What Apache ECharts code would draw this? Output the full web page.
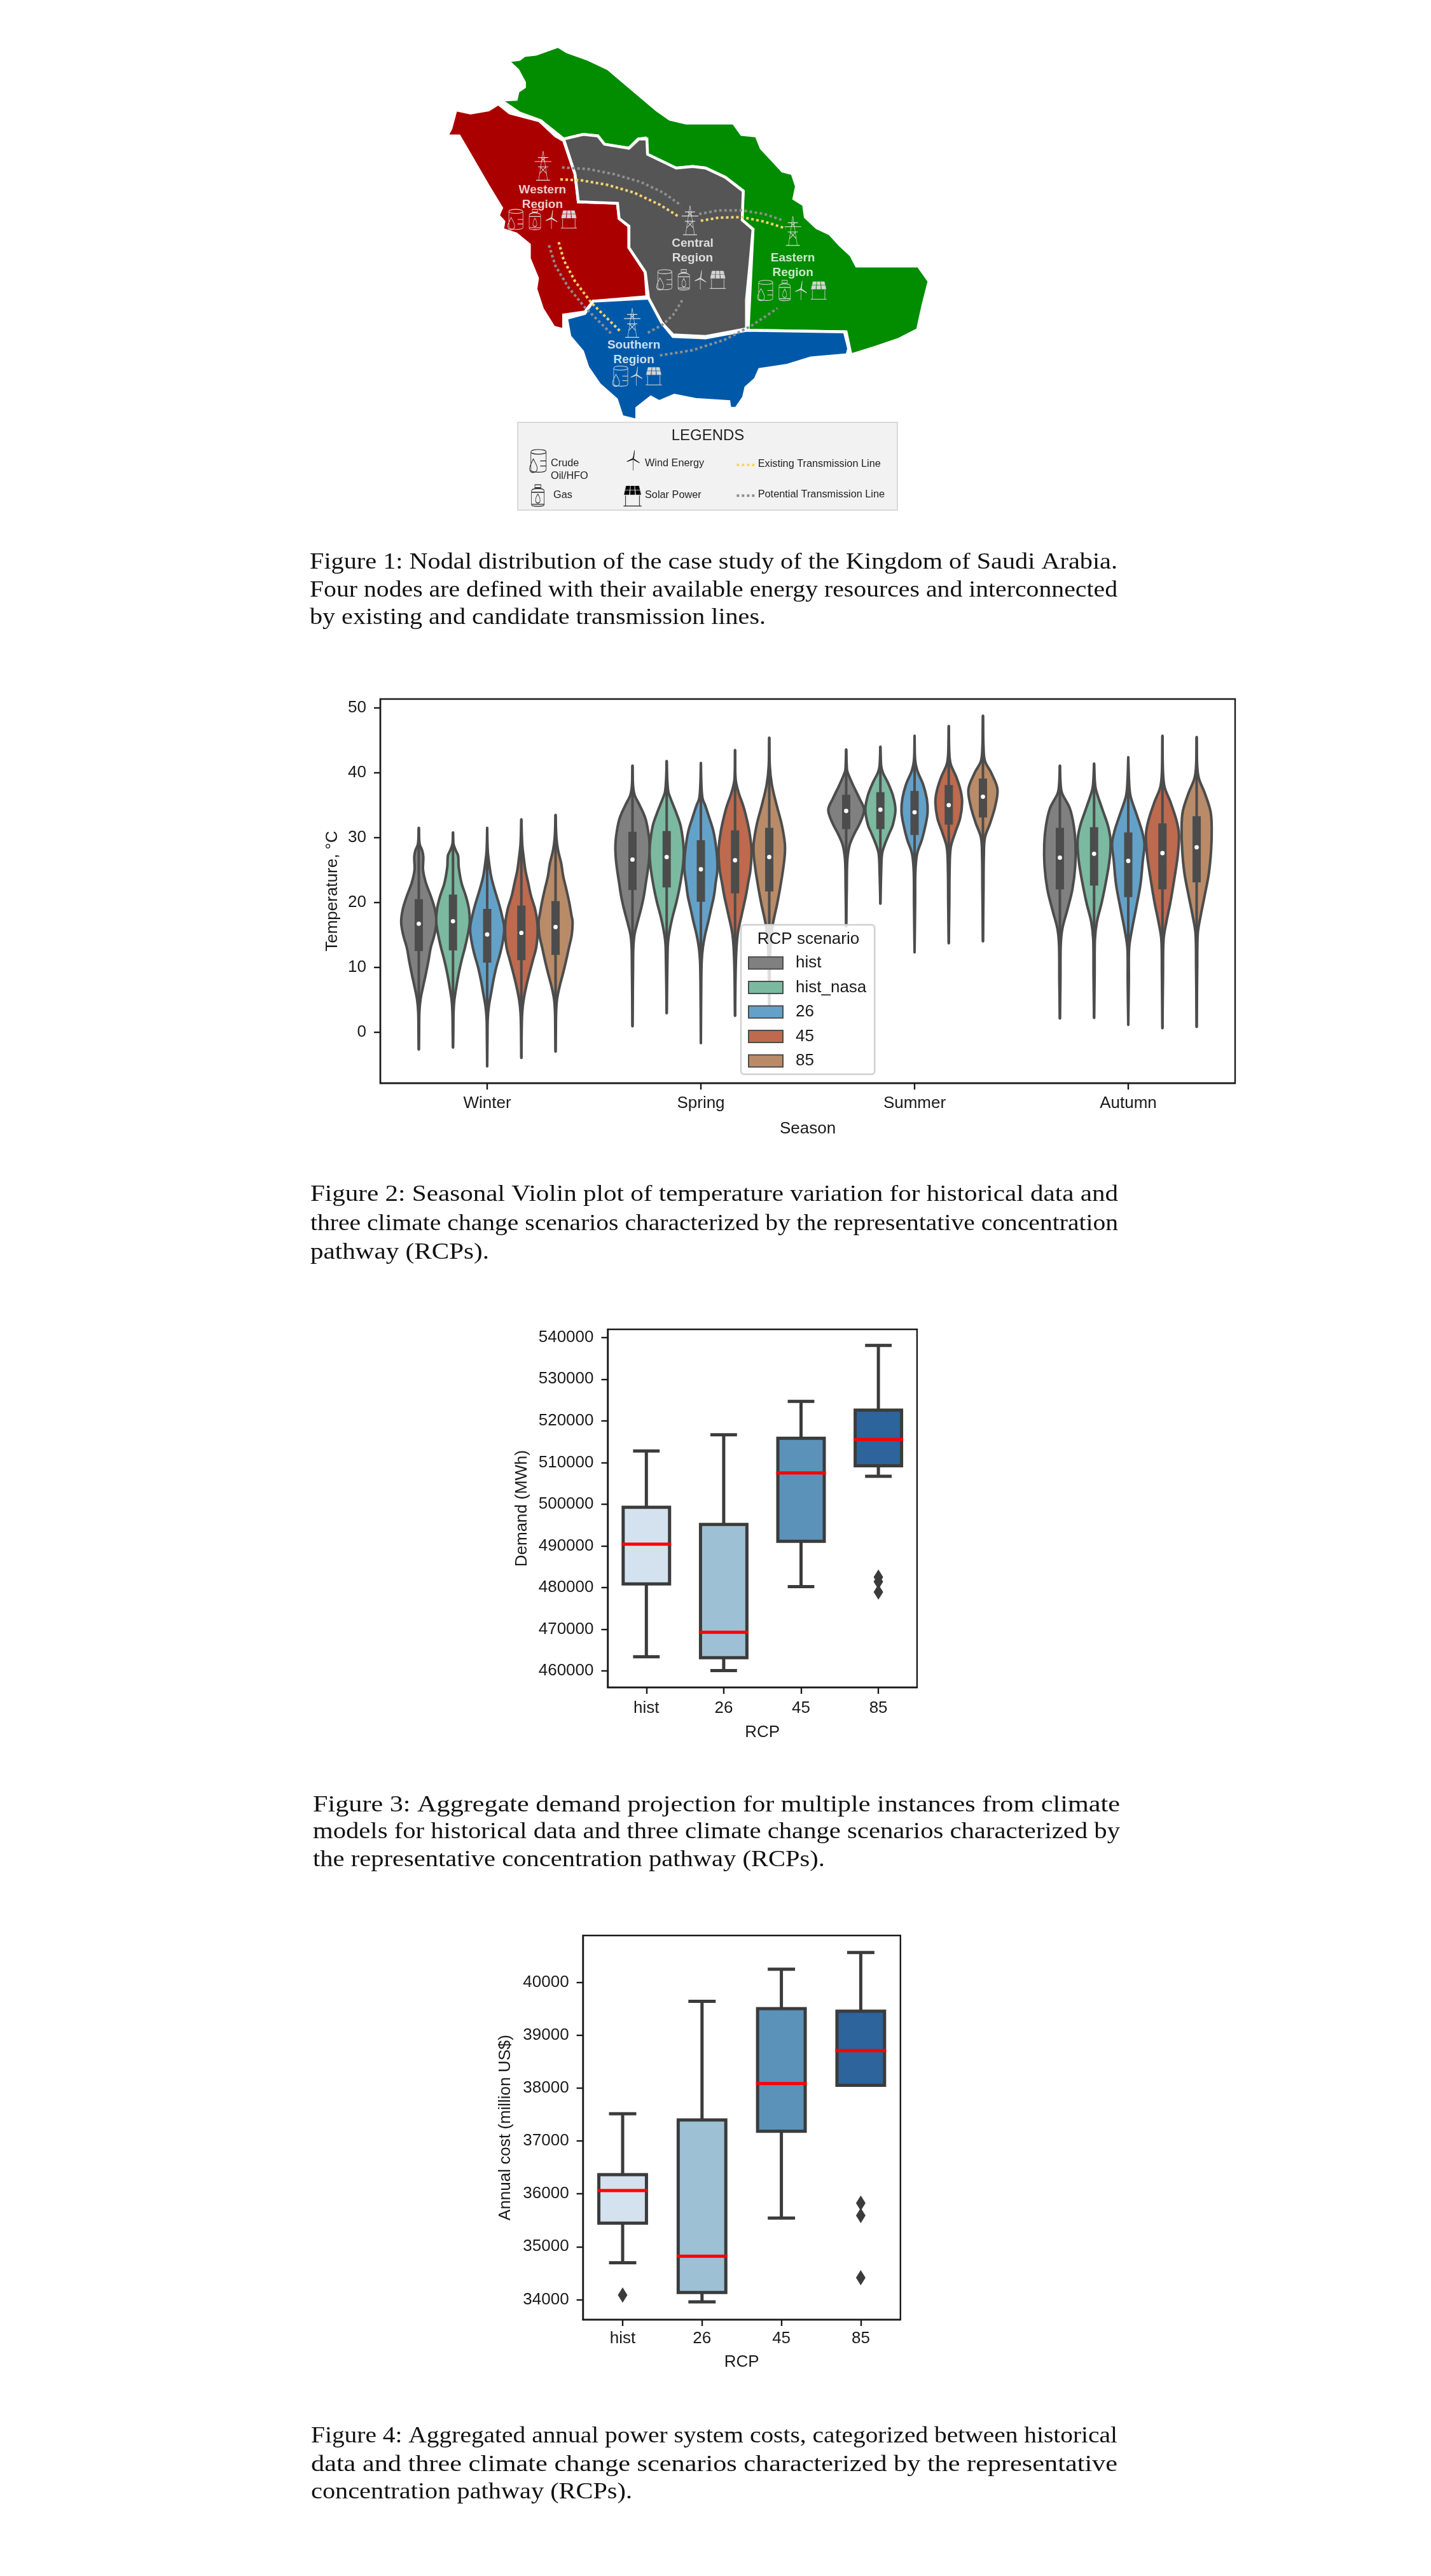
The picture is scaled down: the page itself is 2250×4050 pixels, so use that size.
<!DOCTYPE html>
<html><head><meta charset="utf-8">
<style>html,body{margin:0;padding:0;background:#fff}#c{width:2250px;height:4050px}</style>
<script src="https://cdn.jsdelivr.net/npm/echarts@6/dist/echarts.min.js"></script>
</head><body><div id="c"></div>
<script>
// ---------- Figure 1: map regions (image-unit coordinates) ----------
const regionEastern=[[272,228],[320,225],[325,200],[345,185],[345,170],[325,130],[295,100],[330,95],[345,82],[380,78],[448,52],[475,70],[540,95],[600,125],[650,170],[700,215],[750,260],[790,290],[840,303],[985,303],[1010,340],[1055,345],[1070,385],[1105,425],[1135,460],[1165,468],[1178,510],[1170,550],[1200,570],[1205,610],[1240,645],[1280,665],[1310,700],[1345,735],[1362,770],[1551,770],[1584,820],[1565,900],[1549,978],[1490,1010],[1420,1035],[1345,1060],[1330,985],[1030,980],[1045,650],[1010,620],[1015,525],[960,480],[900,450],[860,445],[810,450],[720,410],[715,352],[693,355],[665,385],[585,372],[570,345],[525,340],[465,355],[395,295],[330,270]];
const regionWestern=[[265,240],[300,270],[390,295],[440,345],[465,360],[500,470],[510,560],[630,565],[635,615],[665,640],[665,710],[715,790],[720,870],[555,885],[530,920],[465,930],[465,978],[435,970],[400,910],[380,845],[385,810],[360,745],[360,700],[320,665],[278,650],[282,625],[265,605],[275,580],[235,510],[175,400],[145,345],[108,345],[120,320],[135,260],[180,270],[235,260]];
const regionCentral=[[465,355],[525,340],[570,345],[590,372],[665,385],[695,355],[720,355],[722,405],[810,450],[860,445],[900,450],[960,480],[1015,525],[1012,620],[1045,650],[1035,770],[1025,880],[1025,975],[900,1000],[800,995],[765,955],[725,875],[715,790],[665,710],[665,640],[635,615],[630,565],[510,560],[500,470]];
const regionSouthern=[[474,941],[530,925],[555,885],[725,875],[765,955],[800,1000],[900,1005],[1025,980],[1325,985],[1338,1040],[1333,1060],[1222,1070],[1150,1094],[1065,1108],[1052,1139],[1023,1167],[1016,1199],[993,1235],[974,1235],[971,1213],[869,1206],[804,1192],[758,1213],[732,1198],[689,1234],[689,1274],[644,1262],[627,1206],[575,1157],[539,1101],[523,1049],[484,1000]];
const existingLines=[[[455,487],[520,490],[600,505],[680,530],[760,570],[820,610]],[[885,622],[940,612],[1010,610],[1080,625],[1145,647]],[[450,692],[465,750],[500,820],[550,890],[640,985]],[[995,1420],[1052,1420]]];
const potentialLines=[[[460,448],[540,453],[620,470],[700,495],[770,530],[825,572]],[[880,600],[940,588],[1010,588],[1080,600],[1140,622]],[[420,702],[440,770],[480,840],[530,905],[612,992]],[[828,882],[800,930],[770,960],[720,990]],[[760,1062],[860,1045],[960,1010],[1040,965],[1120,908]],[[995,1520],[1052,1520]]];
const regionLabels=[['Western\nRegion',400,545],['Central\nRegion',860,720],['Eastern\nRegion',1167,767],['Southern\nRegion',680,1052]];
const pylonSites=[[402,442],[852,620],[1167,655],[675,955]];
const barrelSites=[[317,618],[773,815],[1082,850],[638,1130]];
const gasSites=[[377,618],[833,815],[1142,850]];
const turbineSites=[[428,618],[884,815],[1192,850],[688,1130]];
const solarSites=[[481,618],[937,815],[1246,850],[741,1130]];
const keyBarrel=[[386,1407]],keyGas=[[386,1520]],keyTurbine=[[678,1405]],keySolar=[[676,1522]];

// ---------- Figure 2: violins; each profile is [temperature, half width] ----------
const seasons=['Winter','Spring','Summer','Autumn'];
const scenarios=['hist','hist_nasa','26','45','85'];
const tempTicks=[0,10,20,30,40,50];
const winterHist=[[31.5,0],[29,3],[28,12],[27,16],[25,15],[23,25],[21,42],[19,56],[17,62],[15,55],[13,42],[11,34],[9,25],[7,15],[5,6],[3,2],[0,1],[-2.7,0]];
const winterNasa=[[30.8,0],[29,2],[28,10],[27.2,18],[25.5,20],[23,30],[21,45],[19,56],[17,59],[15,52],[13,42],[11,30],[9,20],[7,12],[5,5],[3,2],[0,1],[-2.4,0]];
const winter26=[[31.5,0],[28,2],[26,7],[24,14],[22,26],[20,40],[18,52],[16,60],[14,55],[12,45],[10,32],[8,22],[6,14],[4,6],[2,2],[-1,1],[-5.3,0]];
const winter45=[[32.8,0],[29,3],[27,8],[25,14],[23,24],[21,34],[19,48],[17,56],[15,57],[13,52],[11,40],[9,28],[7,17],[5,8],[3,3],[0,1],[-4,0]];
const winter85=[[33.5,0],[30,3],[28,9],[26,20],[24,27],[22,38],[20,48],[18,56],[17,60],[15,57],[13,47],[11,37],[9,26],[7,14],[5,5],[3,2],[0,1],[-3,0]];
const springHist=[[41.1,0],[38,2],[36.5,8],[35,25],[33,45],[31,55],[29,60],[27,59],[25,54],[23,47],[21,40],[19,30],[17,18],[15,7],[13,3],[10,2],[0.9,0]];
const springNasa=[[41.8,0],[39,2],[37,6],[36,14],[34,32],[32,48],[30,56],[28,60],[26,58],[24,52],[22,44],[20,34],[18,22],[16,12],[14,5],[12,3],[2.9,0]];
const spring26=[[41.5,0],[38,2],[36,6],[35,15],[33,30],[31,44],[29,52],[27,57],[25,58],[23,52],[21,46],[19,36],[17,26],[15,15],[13,7],[11,3],[8,1.5],[-1.7,0]];
const spring45=[[43.5,0],[39,2],[37,12],[35,28],[33.6,37],[31,50],[28,58],[25,54],[23,46],[21,38],[18,23],[15,9],[11,3],[2.5,0]];
const spring85=[[45.4,0],[41,2],[38.2,9],[35,26],[32,44],[29,55],[27,54],[24,45],[20,29],[17.4,16],[15.6,9],[12,3],[2.4,0]];
const summerHist=[[43.6,0],[41,2],[40.2,4],[38.2,23],[36,47],[34.3,63],[32.3,49],[30.6,29],[28.8,12],[26.5,4],[22,2],[16.3,0]];
const summerNasa=[[44,0],[41,3],[40,9],[38.5,26],[36.5,44],[34.3,53],[32,44],[30.5,30],[29,16],[27.5,6],[25,3],[19.8,0]];
const summer26=[[45.7,0],[42,2],[40.4,9],[38.2,30],[36,43],[34,46],[32,39],[29.7,26],[27.5,9],[24.8,3],[20,2],[12.3,0]];
const summer45=[[47.2,0],[43,2],[41.3,7],[39.4,26],[37.2,42],[35.4,47],[33,40],[30.8,23],[28.5,7],[25,3],[20,2],[13.7,0]];
const summer85=[[48.8,0],[44,2],[41.8,7],[40,29],[37.5,51],[35,44],[32.3,26],[30,7],[27,3],[22,2],[14,0]];
const autumnHist=[[41.1,0],[38,3],[36.8,8],[34.5,35],[31.8,49],[29,55],[25.6,54],[22,44],[18.8,26],[16,9],[13.4,3],[8,2],[2.1,0]];
const autumnNasa=[[41.4,0],[38.5,3],[37.3,7],[34.5,28],[31.8,49],[29.5,58],[26.8,55],[23.7,44],[20,27],[17,10],[14.3,3],[9,2],[2.2,0]];
const autumn26=[[42.4,0],[38.5,3],[36.4,8],[33.6,29],[30.9,49],[29,57],[26.4,51],[22.8,43],[19.2,28],[15.6,12],[12.9,3],[8,2],[1.1,0]];
const autumn45=[[45.7,0],[40,2],[37.7,8],[35.5,28],[32.7,49],[30.5,58],[27.3,54],[23.7,42],[20,28],[17,14],[14.3,4],[9,2],[0.6,0]];
const autumn85=[[45.5,0],[41,2],[39.1,8],[36.8,29],[34,49],[31.3,53],[28.1,51],[24.5,43],[21,28],[17.9,14],[15.2,4],[10,2],[0.8,0]];
const profiles=[[winterHist,springHist,summerHist,autumnHist],[winterNasa,springNasa,summerNasa,autumnNasa],[winter26,spring26,summer26,autumn26],[winter45,spring45,summer45,autumn45],[winter85,spring85,summer85,autumn85]];
// [q1, median, q3] per scenario and season
const quartHist=[[12.5,16.7,20.5],[21.9,26.6,30.9],[31.3,34.1,36.6],[22,26.9,31.5]];
const quartNasa=[[12.6,17.1,21.2],[22.3,27,31],[31.3,34.3,37],[22.6,27.5,31.6]];
const quart26=[[10.7,15.05,19],[20.1,25.1,29.6],[30.4,33.9,37.2],[20.8,26.4,30.8]];
const quart45=[[11.1,15.3,19.5],[21.4,26.5,31.1],[32,35,38.1],[22,27.6,32.2]];
const quart85=[[11.9,16.2,20.2],[21.7,27,31.5],[33.1,36.3,39.1],[23.1,28.5,33.3]];
const quartiles=[quartHist,quartNasa,quart26,quart45,quart85];
const scenarioColors=['#808080','#7bbaa0','#64a1c8','#bd6a4f','#b98b68'];

// ---------- Figures 3 and 4: [low, q1, median, q3, high] ----------
const rcpCats=['hist','26','45','85'];
const boxColors=['#d4e1ee','#9dc0d5','#5b92b9','#2c649b'];
const demandTicks=[460000,470000,480000,490000,500000,510000,520000,530000,540000];
const demandBoxes=[[463400,480850,490400,499250,512750],[460070,463150,469250,495150,516650],[480200,491100,507500,515800,524650],[506700,509200,515500,522550,538100]];
const demandOutliers=[[3,482500],[3,481400],[3,478930]];
const costTicks=[34000,35000,36000,37000,38000,39000,40000];
const costBoxes=[[34698,35444,36061,36361,37515],[33957,34134,34821,37397,39640],[35540,37182,38084,39501,40247],[38052,38052,38707,39453,40564]];
const costOutliers=[[0,34086],[3,35825],[3,35589],[3,34413]];

// ---------- Captions: [text, left, right, centre y] ----------
const captionLines=[
['Figure 1: Nodal distribution of the case study of the Kingdom of Saudi Arabia.',487,1757,885],
['Four nodes are defined with their available energy resources and interconnected',487,1757,929],
['by existing and candidate transmission lines.',487,1204,972],
['Figure 2: Seasonal Violin plot of temperature variation for historical data and',488,1758,1879],
['three climate change scenarios characterized by the representative concentration',488,1758,1925],
['pathway (RCPs).',488,769,1970],
['Figure 3: Aggregate demand projection for multiple instances from climate',492,1761,2839],
['models for historical data and three climate change scenarios characterized by',492,1761,2881],
['the representative concentration pathway (RCPs).',492,1297,2925],
['Figure 4: Aggregated annual power system costs, categorized between historical',489,1757,3831],
['data and three climate change scenarios characterized by the representative',489,1757,3876],
['concentration pathway (RCPs).',489,994,3919]];

const ICON_PYLON='path://M30 0L16 100M30 0L44 100M8 100L52 100M14 22L46 22M4 36L56 36M14 54L46 54M23 22L37 36M37 22L23 36M21 54L40 76M39 54L20 76';
const ICON_BARREL='path://M15 15C15 3 85 3 85 15L85 85C85 97 15 97 15 85ZM15 15C15 27 85 27 85 15M58 50L85 50M58 70L85 70M26 42C14 66 6 74 10 86C16 100 44 98 44 78C44 68 34 56 26 42Z';
const ICON_GAS='path://M36 0L64 0L64 13L36 13ZM20 28C20 13 80 13 80 28L80 90C80 100 20 100 20 90ZM50 42C36 62 36 82 50 82C64 82 64 62 50 42ZM20 34L80 34M20 88L80 88';
const ICON_TURBINE='path://M50 40L50 100M50 40L60 0L56 36ZM50 40L94 62L55 47ZM50 40L8 56L46 46Z';
const ICON_SOLAR='path://M14 0L36 0L34 18L9 18ZM40 0L60 0L61 18L39 18ZM64 0L86 0L91 18L66 18ZM8 21L33 21L31 42L3 42ZM38 21L62 21L63 42L37 42ZM67 21L92 21L97 42L69 42ZM10 46L12 46L12 96L10 96ZM88 46L90 46L90 96L88 96ZM0 96L100 96L100 99L0 99Z';

const geoPt=p=>[p[0],-p[1]];
const feature=(name,pts)=>({type:'Feature',properties:{name},geometry:{type:'Polygon',coordinates:[pts.concat([pts[0]]).map(geoPt)]}});
echarts.registerMap('ksa',{type:'FeatureCollection',features:[feature('Eastern',regionEastern),feature('Western',regionWestern),feature('Central',regionCentral),feature('Southern',regionSouthern)]});

const AX='#1a1a1a',FONT='"Liberation Sans",Arial,sans-serif';
function iconSeries(sites,symbol,size,stroke,fill,bw){
  return {type:'scatter',coordinateSystem:'geo',geoIndex:0,silent:true,z:6,symbol,symbolSize:size,symbolKeepAspect:false,
    itemStyle:{color:fill,borderColor:stroke,borderWidth:bw,opacity:1},data:sites.map(geoPt)};
}
function violinSeries(si){
  return {type:'custom',name:scenarios[si],xAxisIndex:0,yAxisIndex:0,z:3,clip:false,silent:true,
    itemStyle:{color:scenarioColors[si],borderColor:'#4c4c4c',borderWidth:2},
    encode:{x:0,y:1},
    data:seasons.map((s,i)=>[i,quartiles[si][i][1]]),
    renderItem(params,api){
      const season=api.value(0),band=api.size([1,0])[0],prof=profiles[si][season],q=quartiles[si][season];
      const dx=(si-2)*0.16*band,k=band*0.00133;
      const at=(t,u)=>{const c=api.coord([season,t]);return [c[0]+dx+u*k,c[1]];};
      const right=prof.map(p=>at(p[0],p[1])),left=prof.slice().reverse().map(p=>at(p[0],-p[1]));
      const top=at(prof[0][0],0),bot=at(prof[prof.length-1][0],0),q3=at(q[2],0),q1=at(q[0],0),med=at(q[1],0);
      return {type:'group',children:[
        {type:'polygon',shape:{points:right.concat(left),smooth:0.35},style:{fill:scenarioColors[si],stroke:'#4c4c4c',lineWidth:4}},
        {type:'line',shape:{x1:top[0],y1:top[1],x2:bot[0],y2:bot[1]},style:{stroke:'#4c4c4c',lineWidth:4,lineCap:'round'}},
        {type:'rect',shape:{x:q3[0]-6.5,y:q3[1],width:13,height:q1[1]-q3[1]},style:{fill:'#4c4c4c'}},
        {type:'circle',shape:{cx:med[0],cy:med[1],r:3.4},style:{fill:'#fff'}}
      ]};
    }};
}
function boxSeries(stats,gi){
  return {type:'custom',xAxisIndex:gi,yAxisIndex:gi,z:3,silent:true,encode:{x:0,y:[1,2,3,4,5]},
    data:stats.map((s,i)=>[i].concat(s)),
    renderItem(params,api){
      const i=api.value(0),band=api.size([1,0])[0],P=v=>api.coord([i,v]);
      const lo=P(api.value(1)),q1=P(api.value(2)),md=P(api.value(3)),q3=P(api.value(4)),hi=P(api.value(5));
      const cx=lo[0],hw=0.3*band,cap=0.172*band,s={stroke:'#3b3b3b',lineWidth:5};
      const kids=[
        {type:'line',shape:{x1:cx,y1:hi[1],x2:cx,y2:q3[1]},style:s},
        {type:'line',shape:{x1:cx-cap,y1:hi[1],x2:cx+cap,y2:hi[1]},style:s}];
      if(lo[1]-q1[1]>1){kids.push(
        {type:'line',shape:{x1:cx,y1:lo[1],x2:cx,y2:q1[1]},style:s},
        {type:'line',shape:{x1:cx-cap,y1:lo[1],x2:cx+cap,y2:lo[1]},style:s});}
      kids.push(
        {type:'rect',shape:{x:cx-hw,y:q3[1],width:2*hw,height:q1[1]-q3[1]},style:{fill:boxColors[i],stroke:'#3b3b3b',lineWidth:5}},
        {type:'line',shape:{x1:cx-hw-2.5,y1:md[1],x2:cx+hw+2.5,y2:md[1]},style:{stroke:'#ff0000',lineWidth:5}});
      return {type:'group',children:kids};
    }};
}
function outlierSeries(pts,gi){
  return {type:'scatter',xAxisIndex:gi,yAxisIndex:gi,z:4,silent:true,symbol:'diamond',symbolSize:[15,24],itemStyle:{color:'#3b3b3b',opacity:1},data:pts};
}
function catAxis(gi,cats,name,gap,margin,fs){
  return {type:'category',gridIndex:gi,data:cats,name,nameLocation:'middle',nameGap:gap,nameTextStyle:{fontFamily:FONT,fontSize:fs,color:AX},
    axisLine:{show:true,onZero:false,lineStyle:{color:AX,width:2.4}},axisTick:{show:true,alignWithLabel:true,length:10,lineStyle:{color:AX,width:2.4}},
    axisLabel:{fontFamily:FONT,fontSize:fs,color:AX,margin},splitLine:{show:false}};
}
function valAxis(gi,min,max,ticks,name,gap,fs){
  return {type:'value',gridIndex:gi,min,max,name,nameLocation:'middle',nameGap:gap,nameRotate:90,nameTextStyle:{fontFamily:FONT,fontSize:fs,color:AX},
    axisLine:{show:true,lineStyle:{color:AX,width:2.4}},axisTick:{show:true,length:10,customValues:ticks,lineStyle:{color:AX,width:2.4}},
    axisLabel:{fontFamily:FONT,fontSize:fs,color:AX,margin:22,customValues:ticks,formatter:v=>String(v),hideOverlap:false,showMinLabel:true,showMaxLabel:true},splitLine:{show:false}};
}
const frame={show:true,borderColor:AX,borderWidth:2.4,backgroundColor:'transparent'};

const meas=document.createElement('canvas').getContext('2d');
const CAP_FONT='36px "Liberation Serif",serif';
meas.font=CAP_FONT;
const captionEls=captionLines.map(l=>({type:'text',x:l[1],y:l[3],scaleX:(l[2]-l[1])/meas.measureText(l[0]).width,silent:true,
  style:{text:l[0],font:CAP_FONT,fill:'#111',textAlign:'left',textVerticalAlign:'middle'}}));
const t=(x,y,text,size,align)=>({type:'text',x,y,silent:true,z:8,style:{text,font:size+'px '+FONT,fill:'#222',textAlign:align||'left',textVerticalAlign:'middle'}});

const option={
  animation:false,backgroundColor:'#fff',
  grid:[
    Object.assign({left:598,top:1099,width:1344,height:604},frame),
    Object.assign({left:955.5,top:2090,width:486.4,height:563},frame),
    Object.assign({left:916.6,top:3043,width:499.2,height:604},frame)],
  xAxis:[catAxis(0,seasons,'Season',59,19,26),catAxis(1,rcpCats,'RCP',58,20,26),catAxis(2,rcpCats,'RCP',54,17,26)],
  yAxis:[valAxis(0,-7.89,51.37,tempTicks,'Temperature, °C',62,26),valAxis(1,456030,541950,demandTicks,'Demand (MWh)',122,26),valAxis(2,33620,40885,costTicks,'Annual cost (million US$)',109,26)],
  geo:{map:'ksa',left:647.5,top:47.75,width:805,height:754.5,boundingCoords:[[0,0],[1568,-1568]],aspectScale:800/750,roam:false,silent:true,z:1,
    label:{show:false},emphasis:{disabled:true},
    itemStyle:{borderColor:'#fff',borderWidth:4.5},
    regions:[{name:'Eastern',itemStyle:{areaColor:'#028c00'}},{name:'Western',itemStyle:{areaColor:'#ab0000'}},{name:'Central',itemStyle:{areaColor:'#555555'}},{name:'Southern',itemStyle:{areaColor:'#0059a8'}}]},
  legend:{orient:'vertical',left:1165,top:1454,padding:[47,13,8,11],itemWidth:54,itemHeight:19,itemGap:12.5,icon:'rect',
    backgroundColor:'rgba(255,255,255,0.82)',borderColor:'#d0d0d0',borderWidth:2.5,borderRadius:5,z:20,selectedMode:false,
    textStyle:{fontFamily:FONT,fontSize:26,color:AX,padding:[0,0,0,15]},data:scenarios},
  graphic:{elements:[
    {type:'rect',silent:true,z:2,shape:{x:814,y:664,width:597,height:138},style:{fill:'#f2f2f2',stroke:'#cfcfcf',lineWidth:1.5}},
    t(1113,685,'LEGENDS',24,'center'),
    t(866,729,'Crude',16.3),t(866,749,'Oil/HFO',16.3),t(870,779,'Gas',16.3),
    t(1014,729,'Wind Energy',16.3),t(1014,779,'Solar Power',16.3),
    t(1191.7,730,'Existing Transmission Line',16.3),t(1191.7,778,'Potential Transmission Line',16.3),
    {type:'text',x:1271,y:1477,silent:true,z:30,style:{text:'RCP scenario',font:'26px '+FONT,fill:AX,textAlign:'center',textVerticalAlign:'middle'}},
    ...captionEls
  ]},
  series:[
    {type:'lines',coordinateSystem:'geo',polyline:true,silent:true,z:5,lineStyle:{color:'#f6d56c',width:4,type:[4,4],opacity:1},data:existingLines.map(c=>({coords:c.map(geoPt)}))},
    {type:'lines',coordinateSystem:'geo',polyline:true,silent:true,z:5,lineStyle:{color:'#8f8f8f',width:4,type:[4,4],opacity:1},data:potentialLines.map(c=>({coords:c.map(geoPt)}))},
    iconSeries(pylonSites,ICON_PYLON,[26,46],'#dedede','transparent',0.9),
    iconSeries(barrelSites,ICON_BARREL,[24,32],'#dedede','transparent',0.9),
    iconSeries(gasSites,ICON_GAS,[18,32],'#dedede','transparent',0.9),
    iconSeries(turbineSites,ICON_TURBINE,[18,30],'#dedede','transparent',0.9),
    iconSeries(solarSites,ICON_SOLAR,[25,28],'#d4d4d4','#d4d4d4',0.3),
    iconSeries(keyBarrel,ICON_BARREL,[26,36],'#222','transparent',1),
    iconSeries(keyGas,ICON_GAS,[20,34],'#222','transparent',1),
    iconSeries(keyTurbine,ICON_TURBINE,[20,32],'#111','#111',0.8),
    iconSeries(keySolar,ICON_SOLAR,[28,32],'#000','#000',0.3),
    {type:'scatter',coordinateSystem:'geo',silent:true,z:7,symbolSize:0,itemStyle:{color:'transparent'},
      label:{show:true,position:'inside',color:'#fff',fontFamily:FONT,fontWeight:'bold',fontSize:19,lineHeight:23,align:'center',verticalAlign:'middle',formatter:p=>p.data.name},
      data:regionLabels.map(r=>({name:r[0],value:geoPt([r[1],r[2]])}))},
    ...scenarios.map((s,i)=>violinSeries(i)),
    boxSeries(demandBoxes,1),outlierSeries(demandOutliers,1),
    boxSeries(costBoxes,2),outlierSeries(costOutliers,2)
  ]
};
const chart=echarts.init(document.getElementById('c'),null,{renderer:'canvas',width:2250,height:4050});
chart.setOption(option);
</script></body></html>
